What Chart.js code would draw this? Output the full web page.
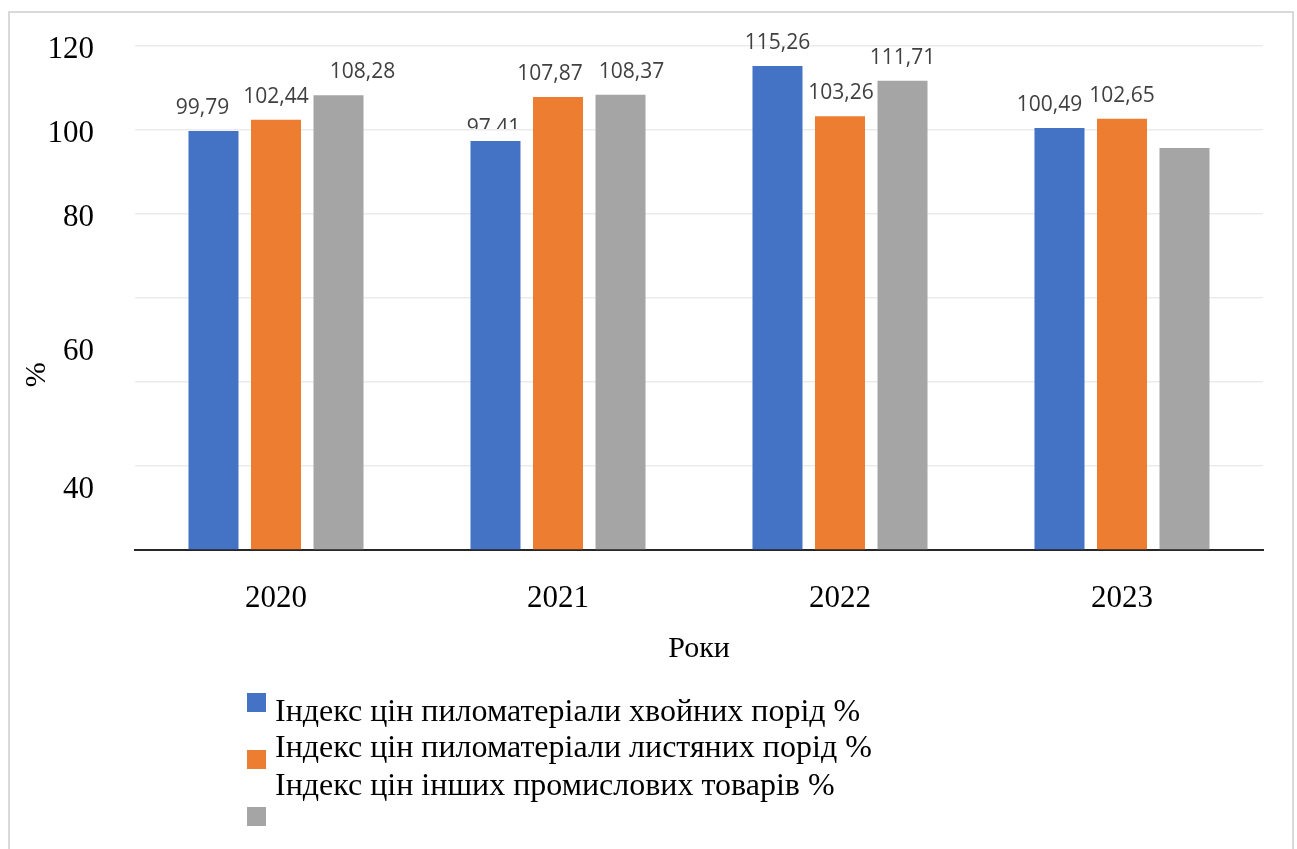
<!DOCTYPE html>
<html lang="uk">
<head>
<meta charset="utf-8">
<title>Індекси цін на пиломатеріали та інші промислові товари</title>
<script src="https://cdn.jsdelivr.net/npm/chart.js@4.4.1/dist/chart.umd.min.js"></script>
<style>
  html, body { margin: 0; padding: 0; background: #ffffff; }
  canvas { display: block; }
</style>
</head>
<body>
<canvas id="chart" width="1297" height="849"></canvas>
<script>
// Роки
const years = ['2020', '2021', '2022', '2023'];

// Назви рядів
const seriesNames = [
  'Індекс цін пиломатеріали хвойних порід %',
  'Індекс цін пиломатеріали листяних порід %',
  'Індекс цін інших промислових товарів %'
];

// Індекси цін, %
const coniferIndex = [99.79, 97.41, 115.26, 100.49];
const hardwoodIndex = [102.44, 107.87, 103.26, 102.65];
const otherGoodsIndex = [108.28, 108.37, 111.71, 95.7];

// Підписи вертикальної осі
const yTickLabels = ['120', '100', '80', '60', '40'];
const yAxisTitle = '%';

const serif = 'Liberation Serif';
const sans = 'Open Sans';

// Рамка навколо всієї діаграми
const framePlugin = {
  id: 'frame',
  beforeDraw(chart, args, opts) {
    const ctx = chart.ctx;
    ctx.save();
    ctx.fillStyle = '#ffffff';
    ctx.fillRect(0, 0, chart.width, chart.height);
    ctx.strokeStyle = opts.color;
    ctx.lineWidth = opts.width;
    ctx.strokeRect(opts.left, opts.top, chart.width - opts.left - opts.right, chart.height + 20);
    ctx.restore();
  }
};

// Назва вертикальної осі
const yTitlePlugin = {
  id: 'yTitle',
  afterDraw(chart, args, opts) {
    const ctx = chart.ctx;
    const y = chart.scales.y.getPixelForValue(opts.atValue);
    ctx.save();
    ctx.translate(opts.x, y);
    ctx.rotate(-Math.PI / 2);
    ctx.font = opts.size + 'px "' + opts.family + '"';
    ctx.fillStyle = opts.color;
    ctx.textAlign = 'center';
    ctx.textBaseline = 'middle';
    ctx.fillText(opts.text, 0, 0);
    ctx.restore();
  }
};

// Підписи значень над стовпчиками
const valueLabelPlugin = {
  id: 'valueLabels',
  afterDatasetsDraw(chart, args, opts) {
    const ctx = chart.ctx;
    const yScale = chart.scales.y;
    ctx.save();
    ctx.font = opts.size + 'px "' + opts.family + '"';
    ctx.fillStyle = opts.color;
    ctx.textAlign = 'center';
    ctx.textBaseline = 'alphabetic';
    chart.data.datasets.forEach((ds, di) => {
      const meta = chart.getDatasetMeta(di);
      meta.data.forEach((bar, i) => {
        if ((opts.skip[di] || []).includes(i)) return;
        const shift = (opts.nudge[di] && opts.nudge[di][i]) || [0, 0];
        const text = ds.data[i].toFixed(2).replace('.', ',');
        ctx.save();
        const c = opts.clip;
        if (c && c.dataset === di && c.index === i) {
          ctx.beginPath();
          ctx.rect(0, 0, chart.width, yScale.getPixelForValue(c.value) - 1);
          ctx.clip();
        }
        ctx.fillText(text, bar.x + shift[0], bar.y - opts.gap + shift[1]);
        ctx.restore();
      });
    });
    ctx.restore();
  }
};

// Легенда під діаграмою
const legendPlugin = {
  id: 'legendBelow',
  afterDraw(chart, args, opts) {
    const ctx = chart.ctx;
    ctx.save();
    ctx.font = opts.size + 'px "' + opts.family + '"';
    ctx.textAlign = 'left';
    ctx.textBaseline = 'alphabetic';
    chart.data.datasets.forEach((ds, i) => {
      const row = opts.rows[i];
      ctx.fillStyle = ds.backgroundColor;
      ctx.fillRect(opts.boxX, row.boxY, opts.box, opts.box);
      ctx.fillStyle = opts.color;
      ctx.fillText(ds.label, opts.textX, row.baseline);
    });
    ctx.restore();
  }
};

new Chart(document.getElementById('chart'), {
  type: 'bar',
  data: {
    labels: years,
    datasets: [
      { label: seriesNames[0], data: coniferIndex, backgroundColor: '#4472C4' },
      { label: seriesNames[1], data: hardwoodIndex, backgroundColor: '#ED7D31' },
      { label: seriesNames[2], data: otherGoodsIndex, backgroundColor: '#A5A5A5' }
    ]
  },
  options: {
    responsive: false,
    animation: false,
    devicePixelRatio: 1,
    categoryPercentage: 0.665,
    barPercentage: 0.8,
    layout: { padding: { left: 10, right: 34, top: 46, bottom: 179 } },
    scales: {
      x: {
        grid: { display: false, drawTicks: false },
        border: { display: true, color: '#262626', width: 2 },
        ticks: { font: { family: serif, size: 31 }, color: '#000000', padding: 30 },
        title: {
          display: true, text: 'Роки', color: '#000000',
          font: { family: serif, size: 30 }, padding: { top: 0, bottom: 3 }
        },
        afterFit(scale) { scale.height = 120; }
      },
      y: {
        position: 'left',
        weight: 0,
        min: 0, max: 120,
        ticks: { display: false, stepSize: 20 },
        grid: { color: '#ebebeb', lineWidth: 1.5, drawTicks: false },
        border: { display: false },
        afterFit(scale) { scale.width = 16; }
      },
      yLabels: {
        position: 'left',
        weight: 1,
        min: 0, max: 120,
        grid: { display: false, drawTicks: false },
        border: { display: false },
        afterBuildTicks(scale) {
          scale.ticks = [119.2, 99.0, 79.0, 47.1, 14.3].map(v => ({ value: v }));
        },
        ticks: {
          autoSkip: false,
          callback: (v, i) => yTickLabels[i],
          font: { family: serif, size: 31 }, color: '#000000', padding: 25
        },
        afterFit(scale) { scale.width = 109; }
      }
    },
    plugins: {
      legend: { display: false },
      tooltip: { enabled: false },
      frame: { color: '#d9d9d9', width: 2, left: 9, top: 12, right: 4 },
      yTitle: { text: yAxisTitle, family: serif, size: 30, color: '#000000', x: 37, atValue: 41.7 },
      valueLabels: {
        family: sans, size: 21, color: '#404040', gap: 17,
        skip: { 2: [3] },
        nudge: {
          0: [[-11, 0], [-2, 10], [0, 0], [-10, 0]],
          1: [[0, 0], [-8, 0], [1, 0], [0, 0]],
          2: [[24, 0], [11, 0], [0, 0], [0, 0]]
        },
        clip: { dataset: 0, index: 1, value: 100 }
      },
      legendBelow: {
        family: serif, size: 32, color: '#000000',
        boxX: 247, box: 19, textX: 275,
        rows: [
          { boxY: 693, baseline: 721 },
          { boxY: 750, baseline: 757 },
          { boxY: 807, baseline: 795 }
        ]
      }
    }
  },
  plugins: [framePlugin, yTitlePlugin, valueLabelPlugin, legendPlugin]
});
</script>
</body>
</html>
